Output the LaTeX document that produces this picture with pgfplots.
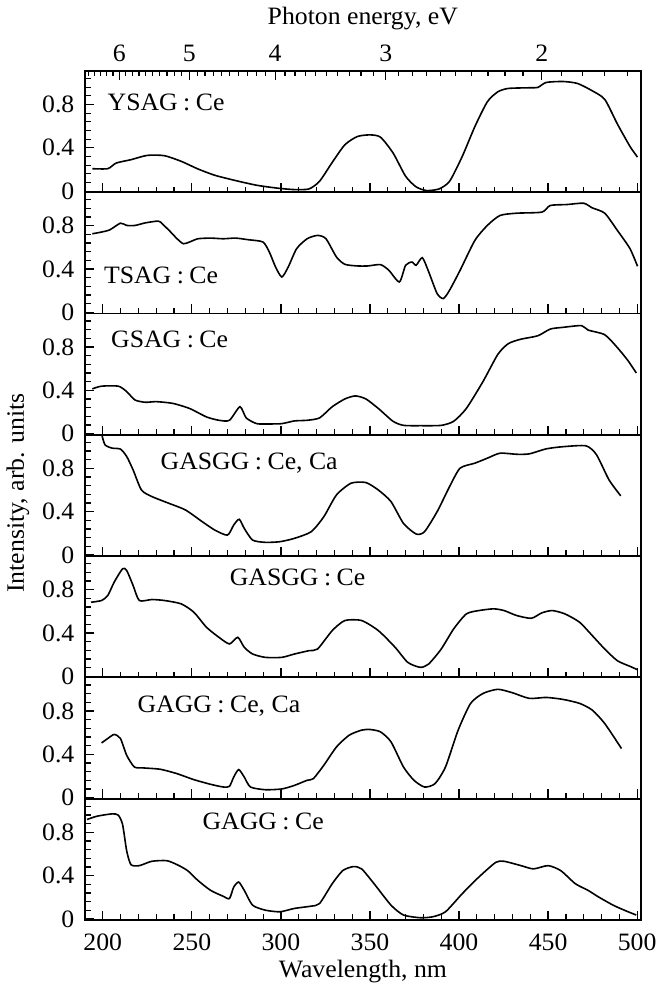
\documentclass[border=0pt]{standalone}
\usepackage{fontspec}
\setmainfont[FakeStretch=1.03]{Liberation Serif}
\usepackage{pgfplots}
\pgfplotsset{compat=1.18}

\newlength\pw \setlength\pw{277.85pt}
\newlength\ph \setlength\ph{60.65pt}
\newcommand\figfont{\fontsize{12.5}{14}\selectfont}
\newcommand\cln{\kern0.22em:\kern0.22em}

\tikzset{name label/.style={anchor=west, inner sep=0pt, font=\figfont}}

\pgfplotsset{
  panel/.style={
    scale only axis, width=\pw, height=\ph,
    anchor=south west,
    xmin=190, xmax=502, ymin=-0.01, ymax=1.11,
    axis line style={line width=0.9pt},
    tick style={line width=0.6pt, black},
    tick align=inside,
    xtick={200,250,...,500}, minor xtick={190,200,...,500},
    xtick pos=left, ytick pos=left,
    ytick={0,0.4,0.8}, yticklabels={0,0.4,0.8},
    yticklabel style={xshift=-1.8pt},
    minor ytick={0.08,0.16,0.24,0.32,0.48,0.56,0.64,0.72,0.88,0.96,1.04},
    major tick length=4.6pt, minor tick length=2.8pt,
    xticklabels={},
    /pgf/number format/assume math mode=true,
    every axis plot/.append style={line width=0.8pt, no marks, smooth, tension=0.4},
    every axis plot post/.append style={black},
    font=\figfont,
  },
}

\begin{document}
\begin{tikzpicture}

% ---------- YSAG:Ce ----------
\begin{axis}[panel, at={(0pt,6\ph)}]
\addplot table {
194.1 0.207
202.8 0.207
207.5 0.259
215.8 0.29
225.0 0.33
234.6 0.327
244.0 0.275
253.5 0.204
262.9 0.146
274.6 0.097
286.4 0.054
298.2 0.027
307.6 0.014
315.8 0.02
321.7 0.091
328.8 0.265
335.9 0.428
342.9 0.504
350.0 0.519
355.9 0.498
363.0 0.351
370.0 0.137
375.9 0.039
381.8 0.005
388.8 0.02
394.7 0.091
401.8 0.32
408.9 0.596
415.9 0.825
421.8 0.917
427.7 0.948
439.5 0.954
444.2 0.957
448.9 1.003
458.3 1.012
466.5 0.994
474.8 0.926
481.8 0.847
488.9 0.62
496.0 0.412
500.2 0.314
};
\node[name label] at (axis cs:202.5,0.815) {YSAG\cln Ce};
\end{axis}

% ---------- photon energy scale ----------
\begin{axis}[scale only axis, width=\pw, height=\ph, anchor=south west, at={(0pt,6\ph)},
  xmode=log, x dir=reverse, xmin=1.546, xmax=6.56, ymin=0, ymax=1,
  hide y axis, axis x line*=top, x axis line style={draw=none},
  tick align=inside, tick style={line width=0.6pt, black},
  major tick length=4.6pt, minor tick length=2.8pt,
  xtick={2,3,4,5,6}, xticklabels={2,3,4,5,6},
  minor xtick={1.6,1.7,1.8,1.9,2.1,2.2,2.3,2.4,2.5,2.6,2.7,2.8,2.9,3.1,3.2,3.3,3.4,3.5,3.6,3.7,3.8,3.9,4.1,4.2,4.3,4.4,4.5,4.6,4.7,4.8,4.9,5.1,5.2,5.3,5.4,5.5,5.6,5.7,5.8,5.9,6.1,6.2,6.3,6.4,6.5},
  xticklabel style={anchor=center, yshift=8.8pt},
  xlabel={Photon energy, eV},
  xlabel style={at={(axis description cs:0.5,1)}, anchor=center, yshift=26.3pt},
  font=\figfont]
\end{axis}

% ---------- TSAG:Ce ----------
\begin{axis}[panel, at={(0pt,5\ph)}]
\addplot table {
194.1 0.726
199.3 0.742
204.0 0.763
209.9 0.824
213.4 0.803
218.1 0.803
224.0 0.827
231.1 0.843
233.4 0.818
238.1 0.742
241.7 0.68
245.2 0.634
248.7 0.65
253.4 0.68
260.5 0.686
267.6 0.68
274.6 0.686
281.7 0.671
289.9 0.65
293.5 0.557
297.0 0.419
300.5 0.327
304.1 0.419
308.8 0.588
314.7 0.68
320.6 0.711
325.3 0.68
331.2 0.511
335.9 0.444
342.9 0.429
348.8 0.429
355.9 0.441
360.6 0.389
366.5 0.281
370.0 0.435
373.6 0.465
375.9 0.435
379.4 0.505
383.0 0.373
387.7 0.174
391.2 0.128
394.7 0.205
400.6 0.389
408.9 0.665
415.9 0.803
423.0 0.895
432.4 0.916
446.5 0.926
451.2 0.987
460.6 0.996
470.0 1.008
474.8 0.965
481.8 0.916
488.9 0.757
496.0 0.588
500.2 0.426
};
\node[name label] at (axis cs:200.5,0.343) {TSAG\cln Ce};
\end{axis}

% ---------- GSAG:Ce ----------
\begin{axis}[panel, at={(0pt,4\ph)}]
\addplot table {
194.1 0.414
199.3 0.439
208.7 0.439
213.4 0.389
218.1 0.311
224.0 0.29
229.9 0.296
239.3 0.28
248.7 0.233
258.2 0.155
265.2 0.124
271.1 0.124
277.0 0.249
280.5 0.146
286.4 0.093
293.5 0.09
300.5 0.093
307.6 0.118
314.7 0.124
321.7 0.146
328.8 0.249
335.9 0.321
341.8 0.349
347.7 0.321
354.7 0.233
362.9 0.115
368.8 0.077
378.2 0.074
390.0 0.077
397.0 0.115
404.1 0.233
413.5 0.483
421.8 0.733
427.7 0.832
434.8 0.873
444.2 0.904
451.2 0.966
458.3 0.982
468.8 0.998
472.4 0.957
481.8 0.914
488.9 0.795
494.8 0.676
499.5 0.561
};
\node[name label] at (axis cs:204.5,0.873) {GSAG\cln Ce};
\end{axis}

% ---------- GASGG:Ce,Ca ----------
\begin{axis}[panel, at={(0pt,3\ph)}]
\addplot table {
199.3 1.12
201.2 1.018
205.2 0.987
209.9 0.978
213.4 0.91
217.0 0.786
221.7 0.6
227.5 0.54
237.0 0.478
246.4 0.416
255.8 0.308
262.9 0.23
270.0 0.184
273.5 0.277
276.6 0.33
279.4 0.246
284.1 0.138
291.2 0.117
299.5 0.123
307.6 0.154
317.0 0.215
324.1 0.354
331.2 0.555
339.4 0.663
347.7 0.669
354.7 0.6
361.8 0.493
368.8 0.292
375.9 0.194
380.6 0.215
387.7 0.4
394.7 0.632
400.6 0.802
408.9 0.848
415.9 0.894
423.0 0.94
432.4 0.93
439.5 0.934
448.9 0.98
458.3 1.0
471.3 1.008
477.2 0.925
484.2 0.694
490.8 0.546
};
\node[name label] at (axis cs:232.3,0.85) {GASGG\cln Ce, Ca};
\end{axis}

% ---------- GASGG:Ce ----------
\begin{axis}[panel, at={(0pt,2\ph)}]
\addplot table {
193.4 0.684
199.3 0.7
202.8 0.746
206.4 0.87
211.1 0.993
213.4 0.978
217.0 0.839
220.5 0.7
227.5 0.709
234.6 0.7
244.0 0.669
251.1 0.592
258.2 0.453
265.2 0.36
271.1 0.299
275.8 0.36
279.4 0.268
284.1 0.206
291.2 0.175
300.5 0.175
307.6 0.206
315.8 0.237
320.6 0.252
328.8 0.422
335.9 0.515
345.3 0.515
354.7 0.422
364.1 0.268
371.2 0.129
378.2 0.083
382.9 0.113
390.0 0.252
397.0 0.438
404.1 0.576
411.1 0.607
419.4 0.623
425.3 0.607
432.4 0.561
440.6 0.536
446.5 0.586
452.4 0.607
459.5 0.576
467.7 0.499
474.8 0.376
481.8 0.252
488.9 0.144
496.0 0.092
500.2 0.061
};
\node[name label] at (axis cs:271.1,0.916) {GASGG\cln Ce};
\end{axis}

% ---------- GAGG:Ce,Ca ----------
\begin{axis}[panel, at={(0pt,1\ph)}]
\addplot table {
199.3 0.505
202.8 0.546
206.4 0.583
209.9 0.546
213.4 0.391
217.7 0.283
222.8 0.274
232.2 0.262
241.7 0.221
251.1 0.166
260.5 0.123
267.6 0.098
271.1 0.104
273.5 0.19
276.3 0.259
279.4 0.19
282.9 0.098
291.2 0.073
300.5 0.08
307.6 0.113
314.7 0.16
318.2 0.175
324.1 0.299
331.2 0.468
338.3 0.576
345.3 0.623
350.0 0.629
355.9 0.607
361.8 0.515
368.8 0.283
374.7 0.16
380.6 0.098
386.5 0.129
392.4 0.283
399.5 0.623
406.5 0.87
413.5 0.962
421.8 1.0
430.0 0.968
439.5 0.916
448.9 0.925
458.3 0.907
467.7 0.87
474.8 0.808
481.8 0.684
491.2 0.453
};
\node[name label] at (axis cs:219.3,0.845) {GAGG\cln Ce, Ca};
\end{axis}

% ---------- GAGG:Ce ----------
\begin{axis}[panel, at={(0pt,0pt)},
  xticklabels={200,250,300,350,400,450,500},
  xticklabel style={anchor=center, yshift=-11.2pt},
  xlabel={Wavelength, nm},
  xlabel style={at={(axis description cs:0.5,0)}, anchor=center, yshift=-25.8pt}]
\addplot table {
191.1 0.918
196.9 0.949
205.2 0.97
208.7 0.958
211.1 0.872
213.4 0.629
215.8 0.501
220.5 0.492
227.5 0.532
235.8 0.538
241.7 0.501
247.6 0.446
253.4 0.355
260.5 0.264
267.6 0.209
271.1 0.188
273.5 0.294
276.3 0.34
279.4 0.264
284.1 0.127
291.2 0.081
299.5 0.066
307.6 0.097
317.0 0.118
321.7 0.142
328.8 0.325
334.7 0.446
340.6 0.483
345.3 0.462
352.3 0.325
361.8 0.127
368.8 0.036
378.2 0.011
385.3 0.02
392.4 0.066
401.8 0.233
411.1 0.386
420.6 0.522
425.3 0.532
434.8 0.492
441.8 0.462
450.0 0.492
457.1 0.446
465.3 0.325
472.4 0.264
478.3 0.203
486.5 0.127
493.6 0.075
499.5 0.036
};
\node[name label] at (axis cs:255.8,0.897) {GAGG\cln Ce};
\end{axis}

\node[rotate=90, font=\figfont] at (-33.5pt,213.5pt) {Intensity, arb. units};

\pgfresetboundingbox
\useasboundingbox (-42.5pt,-34pt) rectangle (287pt,460pt);
\end{tikzpicture}
\end{document}
